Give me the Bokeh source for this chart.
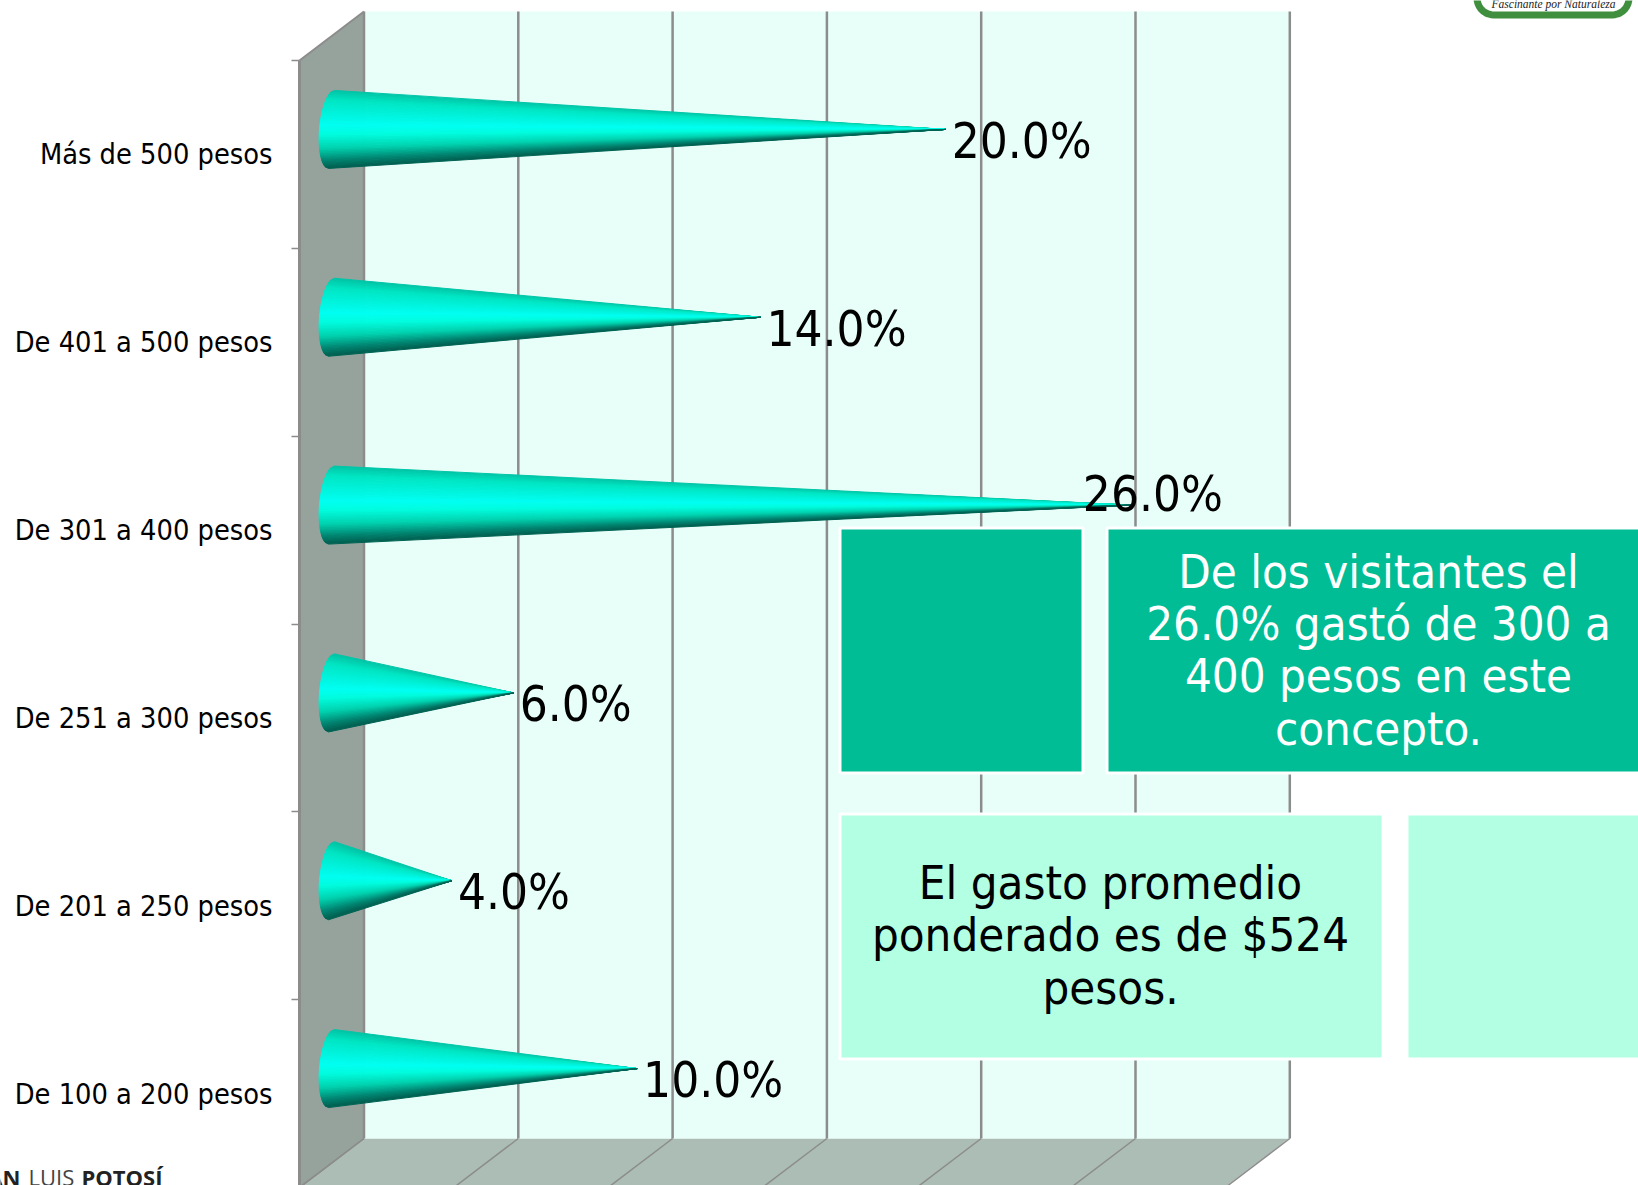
import math
from bokeh.plotting import figure
from bokeh.models import Range1d, LinearAxis, FixedTicker
from bokeh.core.properties import value
from bokeh.embed import file_html
from bokeh.resources import INLINE

# ---- data ----
categories = ["De 100 a 200 pesos", "De 201 a 250 pesos", "De 251 a 300 pesos",
              "De 301 a 400 pesos", "De 401 a 500 pesos", "Más de 500 pesos"]
values = [10.0, 4.0, 6.0, 26.0, 14.0, 20.0]
grid_values = [0, 5, 10, 15, 20, 25, 30]
box_dark = ["De los visitantes el", "26.0% gastó de 300 a", "400 pesos en este", "concepto."]
box_light = ["El gasto promedio", "ponderado es de $524", "pesos."]

# ---- layout (pixels) ----
W, H = 1638, 1185
FRONT_X, FRONT_BOTTOM = 299.0, 1187.0
PX_PCT, PX_CAT = 30.86, 187.83
DEPTH_X, DEPTH_Y = 64.5, 49.0
BAR_X, BAR_Y = 29.0, 25.0
FONT = "DejaVu Sans Condensed"

def X(px):
    return (px - FRONT_X) / PX_PCT
def Y(py):
    return (FRONT_BOTTOM - py) / PX_CAT
dX = lambda px: px / PX_PCT
dY = lambda px: px / PX_CAT

p = figure(width=W, height=H, output_backend="svg", toolbar_location=None,
           x_range=Range1d(X(0), X(W)), y_range=Range1d(Y(H), Y(0)),
           x_axis_location=None, y_axis_location=None,
           min_border_left=0, min_border_right=0, min_border_top=0, min_border_bottom=0,
           background_fill_color="white", border_fill_color="white",
           outline_line_color=None)
p.grid.visible = False

n = len(categories)
bx, by = dX(DEPTH_X), dY(DEPTH_Y)
top = float(n)
xmax = grid_values[-1] - dX(1)

# left wall, floor, back wall
p.patch([0, bx, bx, 0], [top, top + by, by, 0], fill_color="#95A39C", line_color=None)
p.patch([bx, bx + xmax, xmax, 0], [by, by, 0, 0], fill_color="#ABBDB5", line_color=None)
p.quad(left=[bx], right=[bx + xmax], bottom=[by], top=[top + by], fill_color="#E7FFF8", line_color=None)

GRID = "#8C8C8C"
gx = [bx + g for g in grid_values]
p.segment(gx, [by] * 7, gx, [top + by] * 7, line_color=GRID, line_width=2.5)
p.segment(gx, [by] * 7, grid_values, [0] * 7, line_color=GRID, line_width=1.5)
p.line([0, bx], [top, top + by], line_color=GRID, line_width=2)
p.line([0, bx], [0, by], line_color=GRID, line_width=1.5)

# cones: strips converging on the tip
STOPS = [(-1.0, (0, 195, 165)), (-0.75, (0, 230, 195)), (-0.1, (0, 255, 242)), (0.15, (0, 252, 222)),
         (0.5, (0, 210, 175)), (0.8, (0, 135, 115)), (1.0, (0, 95, 80))]
def shade(t):
    for (a, ca), (b, cb) in zip(STOPS, STOPS[1:]):
        if t <= b:
            f = (t - a) / (b - a)
            return "#%02x%02x%02x" % tuple(round(u + (w - u) * f) for u, w in zip(ca, cb))
    return "#005f50"

STRIPS, RAD, ELL = 48, 39.0, 12.0
xs, ys, cols = [], [], []
ox = dX(BAR_X)
for i, v in enumerate(values):
    cy = i + 0.5 + dY(BAR_Y)
    def base(t):
        return (ox + dX(-ELL * math.sqrt(max(0, 1 - t * t)) - 3 * t + 3), cy - dY(RAD) * t)
    for k in range(STRIPS):
        t0 = -1 + 2 * k / STRIPS
        t1 = -1 + 2 * (k + 1) / STRIPS
        a, b = base(t0), base(t1)
        xs.append([a[0], b[0], ox + v])
        ys.append([a[1], b[1], cy])
        cols.append(shade((t0 + t1) / 2))
p.patches(xs, ys, fill_color=cols, line_color=cols, line_width=1)

# data labels
lx = [ox + v + dX(6) for v in values]
ly = [i + 0.5 + dY(BAR_Y) - dY(12) for i in range(n)]
lx[3] = ox + values[3] - dX(48)
ly[3] = 3 + 0.5 + dY(BAR_Y) + dY(11)
p.text(lx, ly, text=[f"{v:.1f}%" for v in values], text_font=value(FONT), text_font_size="49px",
       text_color="black", text_baseline="middle", text_align="left")

# text boxes
DARK, LIGHT = "#00BD96", "#B2FFE3"
def box(x0, x1, y0, y1, c):
    p.quad(left=[X(x0 - 1.5)], right=[X(x1 + 1.5)], top=[Y(y0 - 1.5)], bottom=[Y(y1 + 1.5)], fill_color=c,
           line_color="white", line_width=3)
box(841, 1081, 529, 771, DARK)
box(1108, W + 10, 529, 771, DARK)
box(841, 1381, 815, 1057, LIGHT)
box(1408, W + 10, 815, 1057, LIGHT)
p.text([X(1378)] * 4, [Y(py) for py in (571, 623, 675, 728)], text=box_dark, text_font=value(FONT),
       text_font_size="47px", text_color="white", text_align="center", text_baseline="middle")
p.text([X(1110)] * 3, [Y(py) for py in (882, 934, 987)], text=box_light, text_font=value(FONT),
       text_font_size="47px", text_color="black", text_align="center", text_baseline="middle")

# logo remnant, top right
r = 17.0
lx0, lx1, ly0, ly1 = 1476.5, 1628.5, -20.0, 14.5
arc = []
for a in range(0, 91, 10):
    t = math.radians(a)
    arc.append((lx1 - r + r * math.cos(t), ly1 - r + r * math.sin(t)))
for a in range(90, 181, 10):
    t = math.radians(a)
    arc.append((lx0 + r + r * math.cos(t), ly1 - r + r * math.sin(t)))
path = [(lx1, ly0)] + arc + [(lx0, ly0)]
p.line([X(a) for a, _ in path], [Y(b) for _, b in path], line_color="#3F8F3F", line_width=7)
p.text([X(1553)], [Y(3)], text=["Fascinante por Naturaleza"], text_font=value("Liberation Serif"),
       text_font_style="italic", text_font_size="11.5px", text_color="#222222", text_align="center",
       text_baseline="alphabetic")

# category axis, front plane
ax = LinearAxis(ticker=FixedTicker(ticks=[i + 0.5 for i in range(n)], minor_ticks=list(range(n + 1))),
                major_label_overrides={i + 0.5: c for i, c in enumerate(categories)},
                major_tick_line_color=None, major_tick_out=0, major_tick_in=0,
                minor_tick_out=8, minor_tick_in=0, minor_tick_line_color=GRID, minor_tick_line_width=1.5,
                axis_line_color=GRID, axis_line_width=3, bounds=(0, n), fixed_location=0,
                major_label_standoff=19, major_label_text_font=FONT, major_label_text_font_size="28.7px",
                major_label_text_color="black")
p.add_layout(ax, "left")

# footer fragment, bottom left
for txt, x0, align, style, col in [("AN", 20, "right", "bold", "#222222"), ("LUIS", 28, "left", "normal", "#444444"),
                                   ("POTOSÍ", 81, "left", "bold", "#222222")]:
    p.text([X(x0)], [Y(1176)], text=[txt], text_font=value("Open Sans"), text_font_style=style,
           text_font_size="22px", text_color=col, text_baseline="alphabetic", text_align=align)

open("out.html", "w").write(file_html(p, INLINE))
